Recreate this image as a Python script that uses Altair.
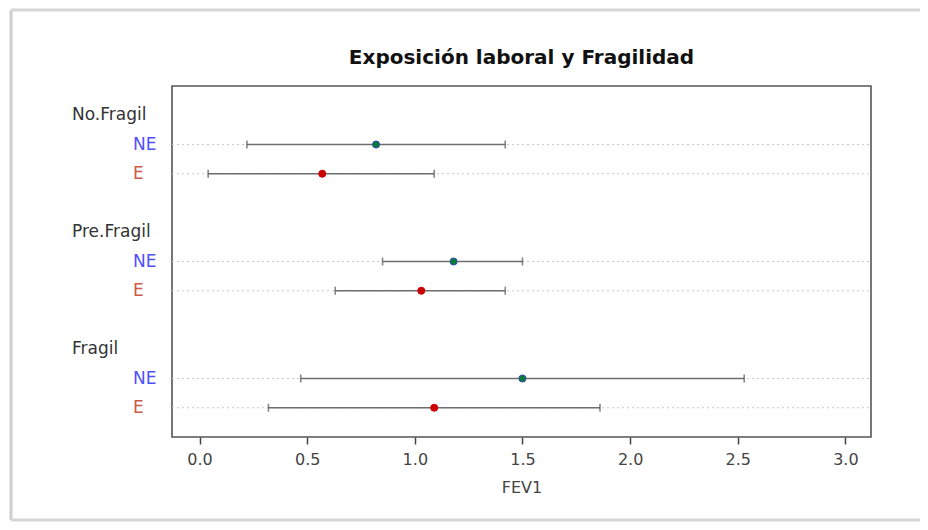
import altair as alt
import pandas as pd

# ---- data ----
groups = ["No.Fragil", "Pre.Fragil", "Fragil"]
exposures = ["NE", "E"]
fev1_mean = [0.82, 0.57, 1.18, 1.03, 1.50, 1.09]
fev1_low = [0.22, 0.04, 0.85, 0.63, 0.47, 0.32]
fev1_high = [1.42, 1.09, 1.50, 1.42, 2.53, 1.86]
x_ticks = [0.0, 0.5, 1.0, 1.5, 2.0, 2.5, 3.0]
title_text = "Exposición laboral y Fragilidad"

# row order for the dot chart (group label row, its sub rows, then a gap row)
row_domain = []
for i, g in enumerate(groups):
    row_domain.append(g)
    for e in exposures:
        row_domain.append(f"{g}|{e}")
    if i < len(groups) - 1:
        row_domain.append(f"gap{i}")

records = []
k = 0
for g in groups:
    for e in exposures:
        records.append({"group": g, "exposure": e, "row": f"{g}|{e}",
                        "mean": fev1_mean[k], "low": fev1_low[k], "high": fev1_high[k]})
        k += 1
df = pd.DataFrame(records)
grp_df = pd.DataFrame({"group": groups, "row": groups})

W, H = 699, 351
FONT = "DejaVu Sans"

yscale = alt.Scale(domain=row_domain, type="point", padding=1)
xscale = alt.Scale(domain=[-0.128, 3.119], nice=False, zero=False)
Y = alt.Y("row:N", scale=yscale, axis=None)

base = alt.Chart(df)

guides = base.mark_rule(color="#c8c8c8", strokeDash=[2, 3], strokeWidth=1).encode(
    y=Y, x=alt.value(0), x2=alt.value(W))

bars = base.mark_rule(color="#6e6e6e", strokeWidth=1.6).encode(
    y=Y,
    x=alt.X("low:Q", scale=xscale,
            axis=alt.Axis(values=x_ticks, format=".1f", title="FEV1", domain=False,
                          grid=False, tickSize=7, tickColor="#444", tickWidth=1.5,
                          labelPadding=7, labelFont=FONT, labelFontSize=16,
                          labelColor="#444", titleFont=FONT, titleFontSize=16,
                          titleFontWeight="normal", titleColor="#444",
                          titlePadding=12)),
    x2="high:Q")

cap_lo = base.mark_tick(color="#555", size=8, thickness=1.6).encode(
    y=Y, x=alt.X("low:Q", scale=xscale))
cap_hi = base.mark_tick(color="#555", size=8, thickness=1.6).encode(
    y=Y, x=alt.X("high:Q", scale=xscale))

points = base.mark_point(filled=True, size=50, shape="circle", opacity=1,
                         strokeWidth=1).encode(
    y=Y, x=alt.X("mean:Q", scale=xscale),
    fill=alt.condition("datum.exposure == 'NE'", alt.value("#0a7a3c"), alt.value("#cc0000")),
    stroke=alt.condition("datum.exposure == 'NE'", alt.value("#2a4fb0"), alt.value("#cc0000")))

sub_labels = base.mark_text(align="left", baseline="middle", font=FONT, fontSize=17).encode(
    y=Y, x=alt.value(-39), text="exposure:N",
    color=alt.condition("datum.exposure == 'NE'", alt.value("#4f4fff"), alt.value("#cc5a48")))

grp_labels = alt.Chart(grp_df).mark_text(align="left", baseline="middle", font=FONT,
                                         fontSize=17, color="#333").encode(
    y=Y, x=alt.value(-100), text="group:N")

one = alt.Data(values=[{"t": title_text}])
title_mark = alt.Chart(one).mark_text(align="center", baseline="middle", font=FONT,
                                      fontSize=20, fontWeight="bold", color="#111").encode(
    x=alt.value(W / 2), y=alt.value(-28), text="t:N")

frame_left = alt.Chart(one).mark_rule(color="#cfcfcf", strokeWidth=3).encode(
    x=alt.value(-161), y=alt.value(-76), y2=alt.value(434))
frame_top = alt.Chart(one).mark_rule(color="#d6d6d6", strokeWidth=3).encode(
    x=alt.value(-161), x2=alt.value(760), y=alt.value(-76))
frame_bottom = alt.Chart(one).mark_rule(color="#d6d6d6", strokeWidth=3).encode(
    x=alt.value(-161), x2=alt.value(760), y=alt.value(434))

chart = alt.layer(frame_left, frame_top, frame_bottom, guides, bars, cap_lo, cap_hi,
                  points, sub_labels, grp_labels, title_mark).properties(
    width=W, height=H,
    autosize=alt.AutoSizeParams(type="none"),
    padding={"left": 164, "top": 78, "right": 49, "bottom": 85},
).configure(background="white", view=alt.ViewConfig(stroke="#555", strokeWidth=1.6))

chart.save("out.html", embed_options={"renderer": "svg", "actions": False})
